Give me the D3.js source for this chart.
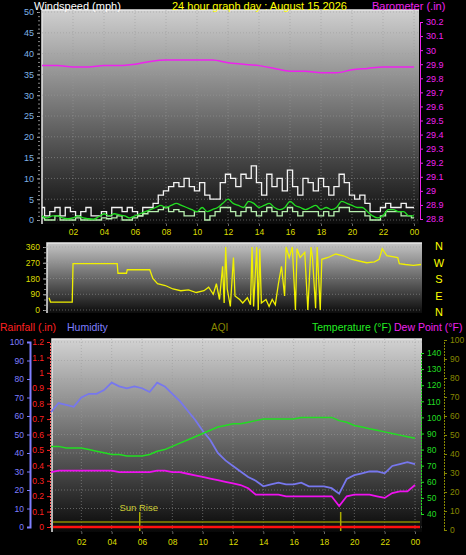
<!DOCTYPE html>
<html><head><meta charset="utf-8">
<script src="https://cdn.jsdelivr.net/npm/d3@7"></script>
<style>body{margin:0;background:#000}svg{display:block;font-family:"Liberation Sans",Arial,sans-serif}</style>
</head><body><svg id="c" width="466" height="555"></svg>
<script>
// ---------- DATA ----------
const hourTicks = ["02","04","06","08","10","12","14","16","18","20","22","00"];
const windGust = [3,1,2,3,1,3,2,1,2,3,1,1,2,1,3,3,2,3,2,1,3,3,4,6,7,8,9,8,10,8,7,9,6,5,5,9,11,10,8,11,10,13,9,6,11,8,10,7,12,8,6,10,9,7,10,8,6,8,11,9,6,5,6,4,2,2,3,4,3,3,4,3,3];
const windAvg = [1,0.5,1,1,0.5,0.3,0.5,1,0.5,0.3,0.2,0.8,1.5,1,1.5,1.2,1,0.5,1,1.5,2,2.5,3,3.5,3,3.5,4,3.5,3,2.5,2,3,2,2.5,3,4,5,4,3.5,3,4.5,4,3,3.5,4,3,2.5,3,4.5,3.5,3,2.5,3,3.5,2.5,3,2.5,3,4.5,4,3.5,3,3,2,1,0.5,1,2.5,2.5,2,2,1,1];
const windSpeed = [0.5,0,0,1,0,0,0,0.5,0,0,0,0,0.5,0.3,0.5,1,0,0,0.5,1,1.5,2,2,2.5,3,2,2.5,2,1,1,2,2,0,1,2,3,3,2,1,2,3,2,1,2,3,2,1,2,3,2,1,2,2,2,1,2,1,2,3,3,2,2,2,1,0,0,1,2,2,2,1,1,0.5];
const baroHours = [0,1,2,3,4,5,6,7,8,9,10,11,12,13,14,15,16,17,18,19,20,21,22,23,24];
const baro = [29.89,29.89,29.88,29.88,29.89,29.89,29.90,29.92,29.93,29.93,29.93,29.93,29.91,29.90,29.89,29.87,29.85,29.85,29.84,29.84,29.86,29.87,29.88,29.88,29.88];
const dirHours = [0,0.1,1.5,1.55,4.4,4.45,5,5.05,6.5,6.7,7,7.5,8,8.5,9,9.5,10,10.3,10.6,10.8,11,11.2,11.3,11.4,11.5,11.7,11.9,12,12.3,12.5,12.8,13,13.1,13.2,13.4,13.5,13.6,13.7,14,14.2,14.4,14.6,14.8,15,15.2,15.3,15.5,15.7,15.9,16,16.2,16.5,16.7,16.9,17,17.2,17.3,17.5,17.6,18,18.5,19,19.5,20,20.5,21,21.3,21.5,21.8,22.5,22.6,23,23.5,24];
const dirValues = [70,45,45,265,265,210,210,230,230,180,150,140,120,110,115,100,110,130,90,150,60,250,40,360,120,20,300,80,60,40,70,30,360,20,360,0,350,40,60,20,60,30,150,250,80,360,300,360,0,350,300,330,0,360,300,10,360,0,290,300,320,310,290,280,270,275,290,350,310,300,265,260,255,260];
const halfHours = d3.range(0,24.01,0.5);
const humidity = [62,67,66,65,70,72,72,74,78,76,75,76,75,73,78,76,72,68,63,58,52,47,40,36,33,30,27,25,22,23,24,23,23,24,22,22,22,21,18,26,28,29,30,30,29,33,34,35,34,34,38].slice(0,49);
const temperature = [82,82,81,81,81,80,79,78,77,77,76,76,76,77,79,80,82,84,86,88,90,92,94,95,96,96,97,98,99,99,99,99,99,100,100,100,100,100,98,97,95,94,93,92,91,90,89,88,87];
const dewPoint = [66,67,67,67,67,67,67,67,67,66,66,66,66,66,67,67,66,66,65,64,63,62,61,60,59,58,56,52,52,52,52,51,51,51,51,51,51,51,45,51,52,52,52,51,50,53,54,54,58];

// ---------- SETUP ----------
const svg = d3.select("#c");
const defs = svg.append("defs");
function grad(id, c1, c2){
  const g = defs.append("linearGradient").attr("id",id).attr("x1",0).attr("y1",0).attr("x2",0).attr("y2",1);
  g.append("stop").attr("offset","0%").attr("stop-color",c1);
  g.append("stop").attr("offset","100%").attr("stop-color",c2);
}
grad("g1","#cfcfcf","#0a0a0a"); grad("g2","#c4c4c4","#0c0c0c"); grad("g3","#d2d2d2","#080808");
const hourTickVals = d3.range(2,25,2);
function panelBg(x0,x1,y0,y1,id){
  svg.append("rect").attr("x",x0).attr("y",y0).attr("width",x1-x0).attr("height",y1-y0).attr("fill",`url(#${id})`);
  svg.append("path").attr("d",`M${x0},${y1}V${y0}H${x1}`).attr("stroke","#e8e8e8").attr("fill","none").attr("stroke-width",1.5);
}
function grid(xs, ys, x0,x1,y0,y1){
  const g = svg.append("g");
  xs.forEach(v=>g.append("line").attr("x1",v).attr("x2",v).attr("y1",y0).attr("y2",y1));
  ys.forEach(v=>g.append("line").attr("y1",v).attr("y2",v).attr("x1",x0).attr("x2",x1));
  g.selectAll("line").attr("stroke","#9a9a9a").attr("stroke-opacity",0.55).attr("stroke-dasharray","1,2");
}
function text(x,y,s,fill,size,anchor){
  return svg.append("text").attr("x",x).attr("y",y).text(s).attr("fill",fill).attr("font-size",size||9).attr("text-anchor",anchor||"start");
}

// ---------- TOP PANEL ----------
const xT = d3.scaleLinear().domain([0,24]).range([42,414]);
const yW = d3.scaleLinear().domain([0,50]).range([220,12]);
const yB = d3.scaleLinear().domain([28.8,30.2]).range([219,22]);
panelBg(42,419,10,224,"g1");
grid(hourTickVals.map(xT), d3.range(0,51,5).map(yW), 42,419,10,224);
const wx = i => xT(i*24/(windGust.length-1));
const stepLine = (arr,y)=>d3.line().x((d,i)=>wx(i)).y(d=>y(d)).curve(d3.curveStep)(arr);
svg.append("path").attr("d",stepLine(windGust,yW)).attr("fill","none").attr("stroke","#f4f4f4").attr("stroke-width",1.3);
svg.append("path").attr("d",stepLine(windSpeed,yW)).attr("fill","none").attr("stroke","#b8f0b0").attr("stroke-width",1.3);
svg.append("path").attr("d",d3.line().x((d,i)=>wx(i)).y(d=>yW(d)).curve(d3.curveMonotoneX)(windAvg)).attr("fill","none").attr("stroke","#22dd22").attr("stroke-width",1.3);
svg.append("path").attr("d",d3.line().x((d,i)=>xT(baroHours[i])).y(d=>yB(d)).curve(d3.curveMonotoneX)(baro)).attr("fill","none").attr("stroke","#ee22ee").attr("stroke-width",1.5);
// axes
const aL = svg.append("g").attr("transform","translate(40,0)").call(d3.axisLeft(yW).tickValues(d3.range(0,51,5)).tickSize(3).tickFormat(d3.format("d")));
aL.selectAll("text").attr("fill","#7fb2e6").attr("font-size",9);
aL.selectAll("line").attr("stroke","#aaa"); aL.select(".domain").attr("stroke","none");
svg.append("g").attr("transform","translate(40,0)").call(d3.axisLeft(yW).tickValues(d3.range(0,51,1)).tickSize(2).tickFormat(""))
  .call(g=>{g.selectAll("line").attr("stroke","#888");g.select(".domain").remove();});
const aR = svg.append("g").attr("transform","translate(420,0)").call(d3.axisRight(yB).tickValues(d3.range(28.8,30.21,0.1)).tickSize(3).tickFormat(d=>{const s=d3.format(".1f")(d);return s.endsWith(".0")?s.slice(0,-2):s;}));
aR.selectAll("text").attr("fill","#ee22ee").attr("font-size",9);
aR.selectAll("line").attr("stroke","#ee22ee"); aR.select(".domain").attr("stroke","#ee22ee");
const aB = svg.append("g").attr("transform","translate(0,224)").call(d3.axisBottom(xT).tickValues(hourTickVals).tickSize(2).tickFormat((d,i)=>hourTicks[i]));
aB.selectAll("text").attr("fill","#dddd00").attr("font-size",8.5); aB.selectAll("line").attr("stroke","#666"); aB.select(".domain").remove();
text(34,10,"Windspeed (mph)","#fff",11);
text(172,10,"24 hour graph day : August 15 2026","#ffff00",11);
text(372,10,"Barometer (.in)","#ee22ee",11);

// ---------- MIDDLE PANEL ----------
const xM = d3.scaleLinear().domain([0,24]).range([49,421]);
const yD = d3.scaleLinear().domain([0,360]).range([310,247]);
panelBg(47,422,243,313,"g2");
grid([], d3.range(0,361,90).map(yD), 47,422,243,313);
svg.append("path").attr("d",d3.line().x((d,i)=>xM(dirHours[i])).y(d=>yD(d))(dirValues)).attr("fill","none").attr("stroke","#f0f000").attr("stroke-width",1.3);
const aD = svg.append("g").attr("transform","translate(46,0)").call(d3.axisLeft(yD).tickValues(d3.range(0,361,90)).tickSize(3));
aD.selectAll("text").attr("fill","#dddd00").attr("font-size",8.5); aD.selectAll("line").attr("stroke","#aaa"); aD.select(".domain").remove();
svg.append("g").attr("transform","translate(46,0)").call(d3.axisLeft(yD).tickValues(d3.range(0,361,30)).tickSize(2).tickFormat(""))
  .call(g=>{g.selectAll("line").attr("stroke","#888");g.select(".domain").remove();});
["N","W","S","E","N"].forEach((c,i)=>text(439,250+i*16.5,c,"#ffff00",11,"middle"));

// ---------- BOTTOM PANEL ----------
text(0,331,"Rainfall (.in)","#ff2020",10.5);
text(67,331,"Humidity","#7f7fff",10.5);
text(211,331,"AQI","#888800",10);
text(312,331,"Temperature (°F)","#22ee22",10.5);
text(394,331,"Dew Point (°F)","#ee22ee",10.5);
const xB = d3.scaleLinear().domain([0,24]).range([51,415]);
const yH = d3.scaleLinear().domain([0,100]).range([527,342]);
const yR = d3.scaleLinear().domain([0,1.2]).range([527,342]);
const yTmp = d3.scaleLinear().domain([40,140]).range([514,353]);
const yQ = d3.scaleLinear().domain([0,100]).range([530,340]);
panelBg(52,422,339,532,"g3");
grid(hourTickVals.map(xB), d3.range(0,101,10).map(yH), 52,422,339,532);
// sun markers
svg.append("line").attr("x1",53).attr("x2",420).attr("y1",522).attr("y2",522).attr("stroke","#8a8a00").attr("stroke-width",1.5);
[5.85,19.1].forEach(h=>svg.append("line").attr("x1",xB(h)).attr("x2",xB(h)).attr("y1",512).attr("y2",531).attr("stroke","#aaaa00").attr("stroke-width",1.5));
text(xB(5.85)-1,511,"Sun Rise","#cccc33",9.5,"middle");
const lineH = d3.line().x((d,i)=>xB(halfHours[i]));
svg.append("path").attr("d",lineH.y(d=>yH(d))(humidity)).attr("fill","none").attr("stroke","#7777ee").attr("stroke-width",1.8);
svg.append("path").attr("d",lineH.y(d=>yTmp(d))(temperature)).attr("fill","none").attr("stroke","#22dd22").attr("stroke-width",1.5);
svg.append("path").attr("d",lineH.y(d=>yTmp(d))(dewPoint)).attr("fill","none").attr("stroke","#ee11ee").attr("stroke-width",1.8);
svg.append("line").attr("x1",53).attr("x2",420).attr("y1",yR(0)).attr("y2",yR(0)).attr("stroke","#ff1010").attr("stroke-width",2.5);
// humidity axis
const aH = svg.append("g").attr("transform","translate(30,0)").call(d3.axisLeft(yH).tickValues(d3.range(0,101,10)).tickSize(3));
aH.selectAll("text").attr("fill","#7f7fff").attr("font-size",8.5); aH.selectAll("line").attr("stroke","#7f7fff"); aH.select(".domain").attr("stroke","#7f7fff").attr("stroke-width",2);
// rain axis
const aRn = svg.append("g").attr("transform","translate(50,0)").call(d3.axisLeft(yR).tickValues(d3.range(0,1.21,0.1)).tickSize(3).tickFormat(d=>{const s=d3.format(".1f")(d);return s.endsWith(".0")?s.slice(0,-2):s;}));
aRn.selectAll("text").attr("fill","#ff2020").attr("font-size",8.5); aRn.selectAll("line").attr("stroke","#ff2020"); aRn.select(".domain").attr("stroke","#ff6060").attr("stroke-dasharray","2,1");
// temperature axis
const aTp = svg.append("g").attr("transform","translate(421,0)").call(d3.axisRight(yTmp).tickValues(d3.range(40,141,10)).tickSize(3));
aTp.selectAll("text").attr("fill","#22dd22").attr("font-size",8.5); aTp.selectAll("line").attr("stroke","#22dd22"); aTp.select(".domain").attr("stroke","#22dd22").attr("stroke-dasharray","2,1");
// AQI axis
const aQ = svg.append("g").attr("transform","translate(444,0)").call(d3.axisRight(yQ).tickValues(d3.range(0,101,10)).tickSize(3));
aQ.selectAll("text").attr("fill","#888800").attr("font-size",8.5); aQ.selectAll("line").attr("stroke","#888800"); aQ.select(".domain").attr("stroke","#888800").attr("stroke-dasharray","2,1");
const aBx = svg.append("g").attr("transform","translate(0,532)").call(d3.axisBottom(xB).tickValues(hourTickVals).tickSize(2).tickFormat((d,i)=>hourTicks[i]));
aBx.selectAll("text").attr("fill","#dddd00").attr("font-size",8.5).attr("dy","0.9em"); aBx.selectAll("line").attr("stroke","#666"); aBx.select(".domain").remove();
</script></body></html>
